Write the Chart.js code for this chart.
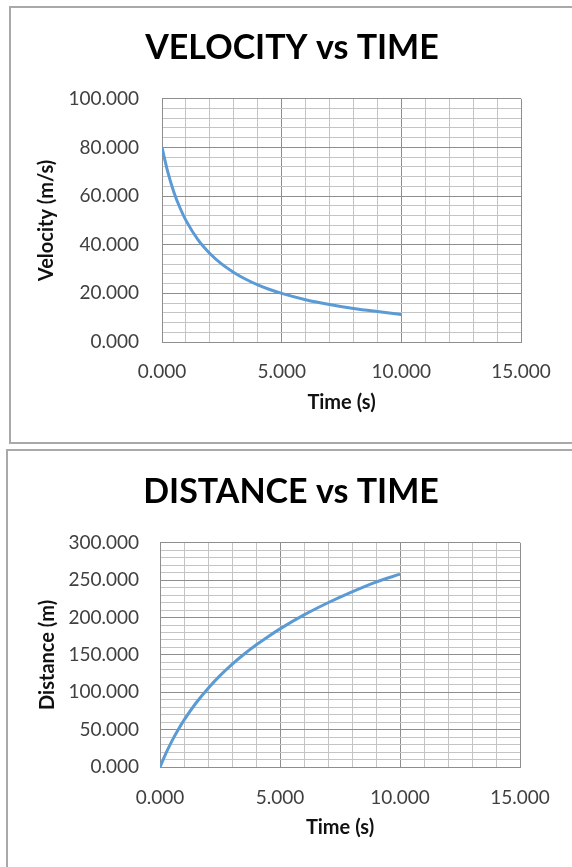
<!DOCTYPE html>
<html>
<head>
<meta charset="utf-8">
<title>Velocity and distance vs time</title>
<script src="https://cdn.jsdelivr.net/npm/chart.js@4/dist/chart.umd.min.js"></script>
<style>
  body { margin: 0; background: #fff; }
  #page { position: relative; width: 572px; height: 867px; overflow: hidden; }
  .frame { position: absolute; border: 2px solid #a9a9a9; box-sizing: border-box; }
  canvas { position: absolute; left: 0; }
</style>
</head>
<body>
<div id="page">
  <div class="frame" style="left:9px; top:6px; width:700px; height:438px;"></div>
  <div class="frame" style="left:6px; top:449px; width:700px; height:500px;"></div>
  <canvas id="velChart" width="585" height="445" style="top:0;"></canvas>
  <canvas id="distChart" width="585" height="422" style="top:445px;"></canvas>
</div>
<script>
// values
const timeS = [0, 0.25, 0.5, 0.75, 1, 1.5, 2, 2.5, 3, 3.5, 4, 4.5, 5, 6, 7, 8, 9, 10];
const velocity = [80, 69.6, 61.5, 55.2, 50.0, 42.1, 36.4, 32.0, 28.6, 25.8, 23.5, 21.6, 20.0, 17.4, 15.4, 13.8, 12.5, 11.3];
const distance = [0, 18.6, 35.0, 49.5, 62.7, 85.6, 105.1, 122.2, 137.3, 150.9, 163.2, 174.4, 184.8, 203.5, 219.8, 234.4, 247.5, 258];

const xTicks = { min: 0, max: 15, minor: 1, major: 5 };
const velTicks = { min: 0, max: 100, minor: 4, major: 20 };
const distTicks = { min: 0, max: 300, minor: 10, major: 50 };

Chart.defaults.font.family = "Lato, 'Open Sans', sans-serif";

const MAJOR = '#8e8e8e';
const MINOR = '#c4c4c4';

function isMajor(v, step) {
  const q = v / step;
  return Math.abs(q - Math.round(q)) < 1e-6;
}

function makeChart(id, cfg) {
  const points = timeS.map((t, i) => ({ x: t, y: cfg.values[i] }));
  return new Chart(document.getElementById(id), {
    type: 'scatter',
    data: {
      datasets: [{
        data: points,
        showLine: true,
        borderColor: '#5b9bd5',
        borderWidth: 3,
        pointRadius: 0,
        cubicInterpolationMode: 'monotone',
        fill: false
      }]
    },
    options: {
      responsive: false,
      animation: false,
      layout: { padding: { left: cfg.padLeft, right: 11, top: 0, bottom: 0 } },
      plugins: {
        legend: { display: false },
        tooltip: { enabled: false },
        title: {
          display: true,
          text: cfg.title,
          color: '#000',
          font: { size: 34, weight: 'bold' },
          padding: { top: cfg.titleTop, bottom: cfg.titleBottom }
        }
      },
      scales: {
        x: {
          type: 'linear',
          min: xTicks.min,
          max: xTicks.max,
          ticks: {
            stepSize: xTicks.minor,
            autoSkip: false,
            maxRotation: 0,
            minRotation: 0,
            padding: cfg.xTickPad,
            color: '#404040',
            font: { size: 19 },
            callback: (v) => isMajor(v, xTicks.major) ? v.toFixed(3) : ''
          },
          grid: {
            drawTicks: false,
            color: (c) => isMajor(c.tick.value, xTicks.major) ? MAJOR : MINOR
          },
          border: { color: MAJOR },
          title: {
            display: true,
            text: 'Time (s)',
            color: '#111',
            font: { size: 20, weight: 'bold' },
            padding: { top: 0, bottom: cfg.xTitlePad }
          },
          afterFit: (s) => { s.height = cfg.xHeight; }
        },
        y: {
          type: 'linear',
          min: cfg.yTicks.min,
          max: cfg.yTicks.max,
          ticks: {
            stepSize: cfg.yTicks.minor,
            autoSkip: false,
            padding: cfg.yTickPad,
            color: '#404040',
            font: { size: 19 },
            callback: (v) => isMajor(v, cfg.yTicks.major) ? v.toFixed(3) : ''
          },
          grid: {
            drawTicks: false,
            color: (c) => isMajor(c.tick.value, cfg.yTicks.major) ? MAJOR : MINOR
          },
          border: { color: MAJOR },
          title: {
            display: true,
            text: cfg.yLabel,
            color: '#111',
            font: { size: 20, weight: 'bold' },
            padding: { top: cfg.yTitlePad, bottom: 0 }
          },
          afterFit: (s) => { s.width = cfg.yWidth; }
        },
        // empty right axis, keeps plot narrower than the centred title
        yRight: {
          axis: 'y',
          position: 'right',
          display: true,
          grid: { display: false },
          ticks: { display: false },
          border: { display: false },
          afterFit: (s) => { s.width = cfg.rightWidth; }
        }
      }
    }
  });
}

makeChart('velChart', {
  values: velocity,
  title: 'VELOCITY vs TIME',
  yLabel: 'Velocity (m/s)',
  yTicks: velTicks,
  padLeft: 10,
  titleTop: 28,
  titleBottom: 30,
  xTickPad: 18,
  xTitlePad: 30,
  xHeight: 103,
  yTickPad: 23,
  yTitlePad: 25,
  yWidth: 152,
  rightWidth: 53
});

makeChart('distChart', {
  values: distance,
  title: 'DISTANCE vs TIME',
  yLabel: 'Distance (m)',
  yTicks: distTicks,
  padLeft: 8,
  titleTop: 27,
  titleBottom: 30,
  xTickPad: 19,
  xTitlePad: 27,
  xHeight: 100,
  yTickPad: 21,
  yTitlePad: 28,
  yWidth: 152,
  rightWidth: 54
});
</script>
</body>
</html>
